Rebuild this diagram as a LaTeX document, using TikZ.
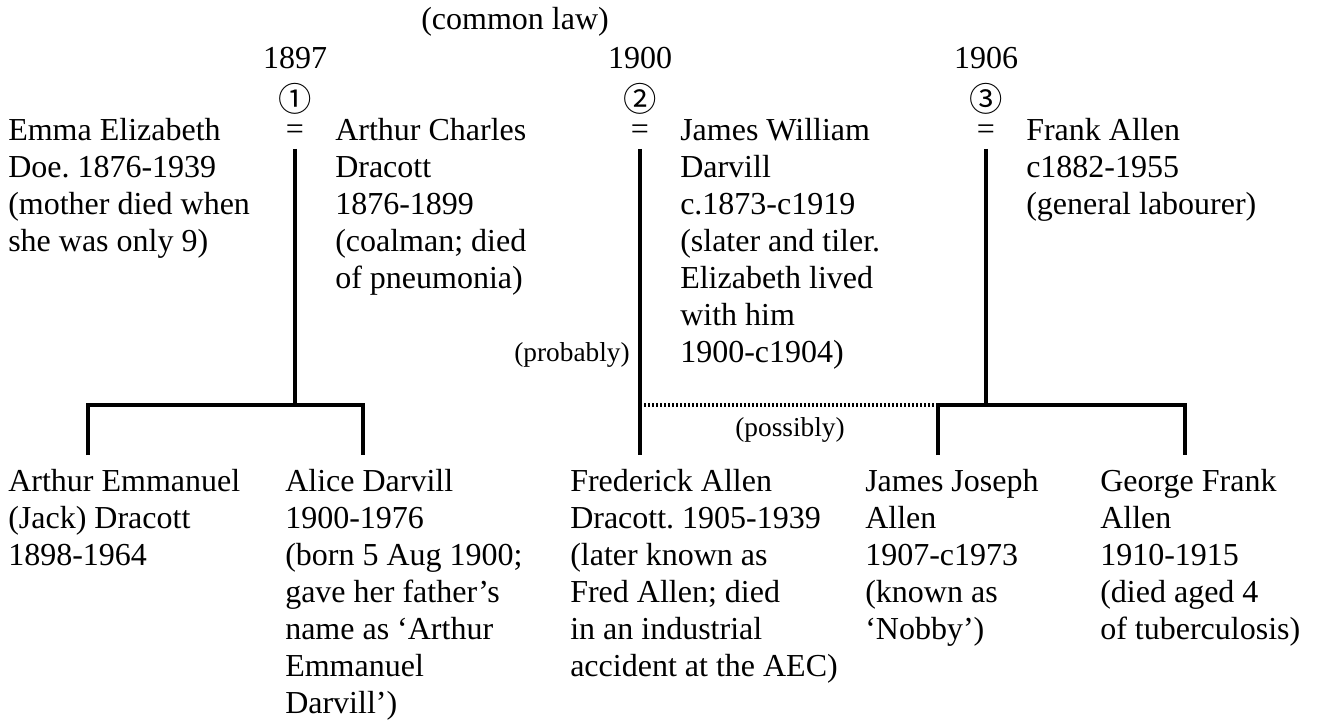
\documentclass[tikz,border=0pt]{standalone}
\usepackage{fontspec}
\setmainfont{Liberation Serif}
\newfontfamily\circfont{Noto Sans CJK SC}
\usetikzlibrary{positioning}
\newcommand{\treefont}{\fontsize{24}{27.75}\selectfont}
\newcommand{\notefont}{\fontsize{20.5}{24}\selectfont}
\frenchspacing

\begin{document}
\begin{tikzpicture}[x=0.75pt, y=-0.75pt]
        \tikzstyle{person} = [anchor=north west, inner sep=0pt, align=left, font=\treefont]
        \tikzstyle{wed} = [inner sep=0pt, font=\treefont]
        \tikzstyle{num} = [inner sep=0pt, anchor=base, text depth=0pt, font=\circfont\fontsize{25}{25}\selectfont]
        \tikzstyle{note} = [inner sep=0pt, font=\notefont]
        \tikzstyle{line} = [line width=2.6pt]
        \tikzstyle{maybe} = [line width=2.4pt, dash pattern=on 1.6pt off 1.4pt]

        \useasboundingbox (0,0) rectangle (1333,726);

        % Marriages
        \node (m1) [wed] at (295,132) {=};
        \node (m2) [wed] at (640,132) {=};
        \node (m3) [wed] at (986,132) {=};
        \node (c1) [num] at (295,111) {①};
        \node (c2) [num] at (640,111) {②};
        \node (c3) [num] at (986,111) {③};
        \node (y1) [wed] at (295,58) {1897};
        \node (y2) [wed] at (640,58) {1900};
        \node (y3) [wed] at (986,58) {1906};
        \node (law) [wed] at (515,22) {(common law)};

        % Parents
        \node (emma) [person] at (8,118) {Emma Elizabeth\\Doe. 1876-1939\\(mother died when\\she was only 9)};
        \node (arthur) [person] at (335,118) {Arthur Charles\\Dracott\\1876-1899\\(coalman; died\\of pneumonia)};
        \node (james) [person] at (680,118) {James William\\Darvill\\c.1873-c1919\\(slater and tiler.\\Elizabeth lived\\with him\\1900-c1904)};
        \node (frank) [person] at (1026,118) {Frank Allen\\c1882-1955\\(general labourer)};

        % Children
        \node (jack) [person] at (8,469) {Arthur Emmanuel\\(Jack) Dracott\\1898-1964};
        \node (alice) [person] at (285,469) {Alice Darvill\\1900-1976\\(born 5 Aug 1900;\\gave her father’s\\name as ‘Arthur\\Emmanuel\\Darvill’)};
        \node (fred) [person] at (570,469) {Frederick Allen\\Dracott. 1905-1939\\(later known as\\Fred Allen; died\\in an industrial\\accident at the AEC)};
        \node (jjoe) [person] at (865,469) {James Joseph\\Allen\\1907-c1973\\(known as\\‘Nobby’)};
        \node (george) [person] at (1100,469) {George Frank\\Allen\\1910-1915\\(died aged 4\\of tuberculosis)};

        % Junctions
        \coordinate (j1) at (295,405);
        \coordinate (j2) at (640,405);
        \coordinate (j3) at (986,405);
        \coordinate (d1) at (88,455);
        \coordinate (d2) at (363,455);
        \coordinate (d3) at (640,455);
        \coordinate (d4) at (938,455);
        \coordinate (d5) at (1185,455);

        % Lines
        \draw [line, shorten <=7pt] (m1.south) -- (j1);
        \draw [line] (d1) |- (j1) -| (d2);
        \draw [line, shorten <=7pt] (m2.south) -- (d3);
        \draw [line, shorten <=7pt] (m3.south) -- (j3);
        \draw [line] (d4) |- (j3) -| (d5);
        \draw [maybe] (j2) -- (d4 |- j2);

        % Notes
        \node (prob) [note, anchor=east] at (630,355) {(probably)};
        \node (poss) [note] at (790,430) {(possibly)};
    \end{tikzpicture}
\end{document}
